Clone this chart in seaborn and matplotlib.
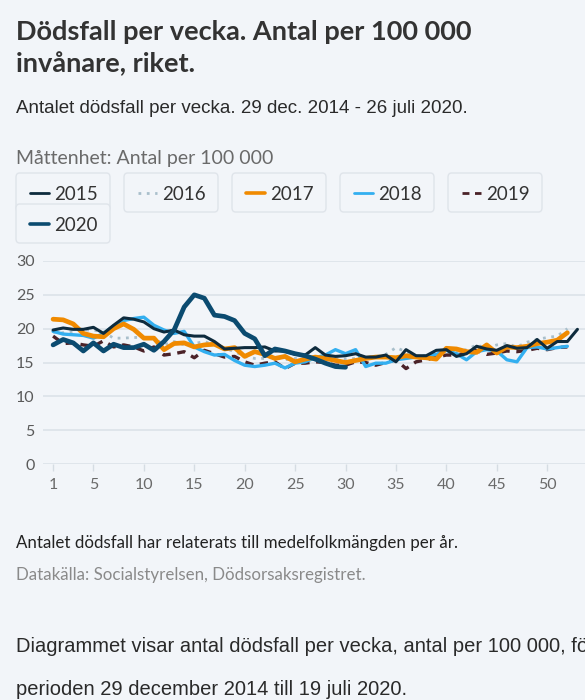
import numpy as np
import pandas as pd
import matplotlib
matplotlib.use("Agg")
import matplotlib.pyplot as plt
import seaborn as sns
from matplotlib.patches import FancyBboxPatch
from matplotlib.lines import Line2D

# weekly deaths per 100 000
years = ["2015", "2016", "2017", "2018", "2019", "2020"]
y2015 = [19.8, 20.1, 19.9, 19.9, 20.2, 19.3, 20.5, 21.6, 21.4, 21.0, 20.0, 19.5, 19.8, 19.1, 18.9, 18.9, 18.1, 17.0,
         17.1, 17.2, 17.2, 17.3, 16.7, 16.7, 16.2, 16.1, 17.2, 16.1, 15.9, 16.0, 16.3, 15.8, 15.8, 16.1, 15.1, 16.9,
         16.0, 16.0, 16.8, 16.9, 15.9, 16.3, 17.4, 17.0, 16.8, 17.5, 17.1, 17.2, 18.4, 17.1, 18.1, 18.1, 19.9]
y2016 = [19.5, 19.4, 19.6, 19.8, 19.8, 19.5, 18.6, 18.6, 18.7, 18.7, 18.6, 17.6, 18.1, 17.6, 17.8, 18.1, 17.6, 17.1,
         16.6, 15.9, 15.6, 15.6, 15.8, 15.4, 15.6, 15.6, 15.8, 15.8, 15.6, 15.5, 15.6, 15.8, 15.9, 16.2, 17.2, 16.6,
         15.9, 16.0, 16.2, 16.5, 16.6, 16.9, 17.6, 17.1, 17.6, 17.8, 17.3, 18.0, 18.4, 18.7, 18.9, 20.0]
y2017 = [21.4, 21.3, 20.7, 19.3, 18.9, 18.8, 20.0, 20.7, 19.9, 18.6, 18.6, 16.9, 17.8, 17.9, 17.3, 17.6, 17.7, 17.0,
         17.2, 15.9, 16.6, 16.2, 15.6, 15.9, 15.1, 15.5, 15.8, 15.6, 15.3, 15.0, 15.3, 15.6, 15.8, 15.8, 15.7, 16.0,
         15.8, 15.7, 15.5, 17.1, 17.0, 16.6, 16.5, 17.6, 16.4, 17.3, 17.2, 17.4, 17.8, 18.0, 18.3, 19.4]
y2018 = [19.6, 19.2, 19.1, 19.0, 18.6, 19.3, 20.4, 21.2, 21.5, 21.7, 20.5, 19.8, 19.3, 19.6, 17.3, 16.6, 16.1, 16.2,
         15.3, 14.6, 14.4, 14.6, 14.9, 14.2, 14.9, 15.1, 15.7, 16.1, 16.9, 16.3, 16.9, 14.4, 14.9, 14.9, 15.4, 15.6,
         15.8, 15.9, 16.2, 16.8, 16.3, 15.4, 16.6, 16.9, 16.7, 15.4, 15.1, 17.2, 17.3, 17.0, 17.2, 17.4]
y2019 = [18.9, 17.8, 17.9, 17.6, 17.4, 18.2, 17.3, 17.6, 17.3, 16.7, 17.3, 16.1, 16.3, 16.6, 15.7, 16.8, 16.3, 15.8,
         15.9, 15.1, 14.6, 14.9, 15.1, 14.1, 14.9, 14.9, 15.1, 15.0, 14.6, 14.6, 15.1, 15.0, 14.6, 15.0, 15.4, 14.1,
         15.1, 15.4, 15.8, 16.1, 16.1, 16.4, 16.8, 16.2, 16.4, 16.7, 16.6, 16.8, 17.1, 16.9, 17.2, 17.3]
y2020 = [17.6, 18.4, 17.9, 16.7, 17.9, 16.7, 17.7, 17.2, 17.2, 17.7, 16.8, 18.1, 19.8, 23.2, 25.0, 24.5, 22.0, 21.8,
         21.2, 19.3, 18.5, 16.0, 17.0, 16.7, 16.3, 16.0, 15.5, 14.9, 14.4, 14.3]
week_ticks = [1, 5, 10, 15, 20, 25, 30, 35, 40, 45, 50]
y_ticks = [0, 5, 10, 15, 20, 25, 30]

series = dict(zip(years, [y2015, y2016, y2017, y2018, y2019, y2020]))
df = pd.concat([pd.DataFrame({"vecka": np.arange(1, len(v) + 1), "antal": v, "year": k})
                for k, v in series.items()])

colors = {"2015": "#0e2b3d", "2016": "#a9bfcb", "2017": "#f08a00",
          "2018": "#33aff0", "2019": "#4a2228", "2020": "#0b4b70"}
widths = {"2015": 2.2, "2016": 2.0, "2017": 3.4, "2018": 2.4, "2019": 2.4, "2020": 3.4}
dash = {"2015": "-", "2016": (0, (1, 2)), "2017": "-", "2018": "-", "2019": (0, (2.5, 2)), "2020": "-"}
order = ["2016", "2019", "2018", "2017", "2015", "2020"]

bg = "#f2f5f9"
sns.set_theme(style="white")
plt.rcParams['font.family'] = ['Lato', 'DejaVu Sans']

W, H = 585, 700
fig = plt.figure(figsize=(W / 100, H / 100), dpi=100, facecolor=bg)
ax = fig.add_axes([43 / W, 1 - 464 / H, 1 - 43 / W, 203 / H])
ax.set_facecolor(bg)

for yr in order:
    sns.lineplot(data=df[df["year"] == yr], x="vecka", y="antal", ax=ax, color=colors[yr],
                 linewidth=widths[yr], linestyle=dash[yr], legend=False, zorder=3)

ax.set_xlim(0, 53.75)
ax.set_ylim(0, 30)
ax.set_xticks(week_ticks)
ax.set_yticks(y_ticks)
ax.set_xlabel("")
ax.set_ylabel("")
ax.grid(True, axis="y", color="#dce2e9", linewidth=1.2)
ax.grid(False, axis="x")
for s in ax.spines.values():
    s.set_visible(False)
ax.tick_params(axis="y", length=0, pad=6, labelsize=11.5, labelcolor="#5a5a5a")
ax.tick_params(axis="x", length=5, color="#d5dce3", width=1, pad=5, labelsize=11.5, labelcolor="#6a6a6a",
               direction="out", bottom=True)


def px(x, y):
    return x / W, 1 - y / H


# header texts
fig.text(*px(16, 40), "Dödsfall per vecka. Antal per 100 000", fontsize=19.5, fontweight="bold", color="#333333")
fig.text(*px(16, 72), "invånare, riket.", fontsize=19.5, fontweight="bold", color="#333333")
fig.text(*px(16, 113), "Antalet dödsfall per vecka. 29 dec. 2014 - 26 juli 2020.", fontsize=13.5,
         family="Liberation Sans", color="#2a2a2a")
fig.text(*px(16, 164), "Måttenhet: Antal per 100 000", fontsize=14, color="#6a6a6a")

# legend boxes
boxes = [("2015", 16, 173), ("2016", 124, 173), ("2017", 232, 173), ("2018", 340, 173), ("2019", 448, 173),
         ("2020", 16, 204)]
for yr, bx, by in boxes:
    x0, y1 = px(bx, by + 39)
    patch = FancyBboxPatch((x0, y1), 94 / W, 39 / H, boxstyle="round,pad=0,rounding_size=0.006",
                           transform=fig.transFigure, facecolor=bg, edgecolor="#dfe4ea", linewidth=1.0)
    fig.add_artist(patch)
    cy = by + 20
    lx0, ly = px(bx + 14, cy)
    lx1, _ = px(bx + 33, cy)
    lw = 2.6 if yr in ("2017", "2020") else 2.0
    fig.add_artist(Line2D([lx0, lx1], [ly, ly], color=colors[yr], linewidth=lw, linestyle=dash[yr],
                          transform=fig.transFigure))
    fig.text(*px(bx + 38, cy), yr, fontsize=13.5, color="#333333", va="center_baseline")

# footer texts
fig.text(*px(16, 548), "Antalet dödsfall har relaterats till medelfolkmängden per år.", fontsize=12.2,
         color="#222222")
fig.text(*px(16, 580), "Datakälla: Socialstyrelsen, Dödsorsaksregistret.", fontsize=12.2, color="#8a8a8a")
fig.text(*px(16, 652), "Diagrammet visar antal dödsfall per vecka, antal per 100 000, för", fontsize=14.5,
         family="Liberation Sans", color="#2a2a2a")
fig.text(*px(16, 695), "perioden 29 december 2014 till 19 juli 2020.", fontsize=14.5,
         family="Liberation Sans", color="#2a2a2a")

fig.savefig("out.png", dpi=100, facecolor=bg)
